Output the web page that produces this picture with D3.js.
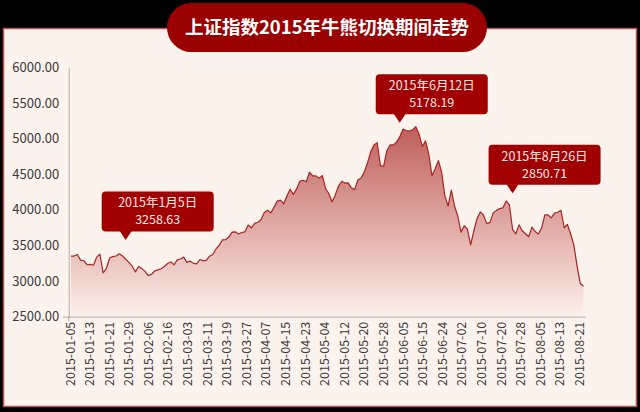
<!DOCTYPE html>
<html>
<head>
<meta charset="utf-8">
<script src="https://cdn.jsdelivr.net/npm/d3@7"></script>
<style>
    body { margin: 0; background: #000; }
    svg { display: block; }
</style>
</head>
<body>
<div id="chart"></div>
<script>
// trading days, 2015-01-05 .. 2015-08-26
var dates = [
    '2015-01-05', '2015-01-06', '2015-01-07', '2015-01-08', '2015-01-09', '2015-01-12', '2015-01-13', '2015-01-14', '2015-01-15', '2015-01-16',
    '2015-01-19', '2015-01-20', '2015-01-21', '2015-01-22', '2015-01-23', '2015-01-26', '2015-01-27', '2015-01-28', '2015-01-29', '2015-01-30',
    '2015-02-02', '2015-02-03', '2015-02-04', '2015-02-05', '2015-02-06', '2015-02-09', '2015-02-10', '2015-02-11', '2015-02-12', '2015-02-13',
    '2015-02-16', '2015-02-17', '2015-02-25', '2015-02-26', '2015-02-27',
    '2015-03-02', '2015-03-03', '2015-03-04', '2015-03-05', '2015-03-06', '2015-03-09', '2015-03-10', '2015-03-11', '2015-03-12', '2015-03-13',
    '2015-03-16', '2015-03-17', '2015-03-18', '2015-03-19', '2015-03-20', '2015-03-23', '2015-03-24', '2015-03-25', '2015-03-26', '2015-03-27',
    '2015-03-30', '2015-03-31',
    '2015-04-01', '2015-04-02', '2015-04-03', '2015-04-07', '2015-04-08', '2015-04-09', '2015-04-10', '2015-04-13', '2015-04-14', '2015-04-15',
    '2015-04-16', '2015-04-17', '2015-04-20', '2015-04-21', '2015-04-22', '2015-04-23', '2015-04-24', '2015-04-27', '2015-04-28', '2015-04-29',
    '2015-04-30',
    '2015-05-04', '2015-05-05', '2015-05-06', '2015-05-07', '2015-05-08', '2015-05-11', '2015-05-12', '2015-05-13', '2015-05-14', '2015-05-15',
    '2015-05-18', '2015-05-19', '2015-05-20', '2015-05-21', '2015-05-22', '2015-05-25', '2015-05-26', '2015-05-27', '2015-05-28', '2015-05-29',
    '2015-06-01', '2015-06-02', '2015-06-03', '2015-06-04', '2015-06-05', '2015-06-08', '2015-06-09', '2015-06-10', '2015-06-11', '2015-06-12',
    '2015-06-15', '2015-06-16', '2015-06-17', '2015-06-18', '2015-06-19', '2015-06-23', '2015-06-24', '2015-06-25', '2015-06-26', '2015-06-29',
    '2015-06-30',
    '2015-07-01', '2015-07-02', '2015-07-03', '2015-07-06', '2015-07-07', '2015-07-08', '2015-07-09', '2015-07-10', '2015-07-13', '2015-07-14',
    '2015-07-15', '2015-07-16', '2015-07-17', '2015-07-20', '2015-07-21', '2015-07-22', '2015-07-23', '2015-07-24', '2015-07-27', '2015-07-28',
    '2015-07-29', '2015-07-30', '2015-07-31',
    '2015-08-03', '2015-08-04', '2015-08-05', '2015-08-06', '2015-08-07', '2015-08-10', '2015-08-11', '2015-08-12', '2015-08-13', '2015-08-14',
    '2015-08-17', '2015-08-18', '2015-08-19', '2015-08-20', '2015-08-21', '2015-08-24', '2015-08-25', '2015-08-26'
];

// closing values, same order as dates
var closes = [
    3350.52, 3351.45, 3373.95, 3293.46, 3285.41, 3229.32, 3235.30, 3222.44, 3336.45, 3376.50,
    3116.35, 3173.05, 3323.61, 3343.34, 3351.76, 3383.18, 3352.96, 3305.74, 3262.30, 3210.36,
    3128.30, 3204.91, 3174.13, 3136.53, 3075.91, 3095.12, 3141.59, 3157.70, 3173.42, 3203.83,
    3246.91, 3268.71, 3228.84, 3298.36, 3310.30,
    3336.28, 3263.05, 3279.53, 3248.48, 3241.19, 3302.41, 3286.07, 3290.90, 3349.32, 3372.91,
    3449.30, 3502.85, 3577.30, 3582.27, 3617.32, 3687.73, 3691.41, 3660.73, 3682.09, 3691.10,
    3786.57, 3747.90,
    3810.29, 3825.78, 3863.93, 3961.38, 3994.81, 3957.53, 4034.31, 4121.71, 4135.57, 4084.16,
    4194.82, 4287.30, 4217.08, 4293.62, 4398.49, 4414.51, 4393.69, 4527.40, 4476.62, 4476.21,
    4441.66,
    4480.46, 4298.71, 4229.27, 4112.21, 4205.92, 4333.58, 4401.22, 4375.76, 4378.31, 4308.69,
    4283.49, 4417.55, 4446.29, 4529.42, 4657.60, 4813.80, 4910.90, 4941.71, 4620.27, 4611.74,
    4828.74, 4910.53, 4909.98, 4947.10, 5023.10, 5131.88, 5113.53, 5106.04, 5121.59, 5166.35,
    5062.99, 4887.43, 4967.90, 4785.36, 4478.36, 4576.49, 4690.15, 4527.78, 4192.87, 4053.03,
    4277.22,
    4053.70, 3912.77, 3686.92, 3775.91, 3727.12, 3507.19, 3709.33, 3877.80, 3970.39, 3924.49,
    3805.70, 3823.18, 3957.35, 3992.11, 4017.67, 4026.04, 4123.92, 4070.91, 3725.56, 3663.00,
    3789.17, 3705.77, 3663.73,
    3622.91, 3756.55, 3694.57, 3661.54, 3744.20, 3928.42, 3927.91, 3886.32, 3954.56, 3965.33,
    3993.67, 3748.16, 3794.11, 3664.29, 3507.74, 3209.91, 2964.97, 2927.29
];

// x axis labels (every 6th trading day)
var tickLabels = [
    '2015-01-05', '2015-01-13', '2015-01-21', '2015-01-29', '2015-02-06', '2015-02-16', '2015-03-03',
    '2015-03-11', '2015-03-19', '2015-03-27', '2015-04-07', '2015-04-15', '2015-04-23', '2015-05-04',
    '2015-05-12', '2015-05-20', '2015-05-28', '2015-06-05', '2015-06-15', '2015-06-24', '2015-07-02',
    '2015-07-10', '2015-07-20', '2015-07-28', '2015-08-05', '2015-08-13', '2015-08-21'
];

var yTicks = [2500, 3000, 3500, 4000, 4500, 5000, 5500, 6000];

// callouts: where the pointer sits, and what it says
var noteDates  = ['2015-01-28', '2015-06-05', '2015-07-27'];
var noteLevels = [3576, 5222, 4232];
var noteDays   = ['2015年1月5日', '2015年6月12日', '2015年8月26日'];
var noteValues = ['3258.63', '5178.19', '2850.71'];

var title = '上证指数2015年牛熊切换期间走势';

var width = 640, height = 412;
var fontFamily = '"Noto Sans CJK SC", "Noto Sans", sans-serif';

var svg = d3.select('#chart').append('svg')
    .attr('width', width)
    .attr('height', height)
    .style('font-family', fontFamily);

// black frame + card
svg.append('rect')
    .attr('width', width).attr('height', height)
    .attr('fill', '#000');

svg.append('rect')
    .attr('x', 3.5).attr('y', 28.5)
    .attr('width', 633).attr('height', 378)
    .attr('fill', '#fdf3ed')
    .attr('stroke', '#b8524e')
    .attr('stroke-width', 1.5);

// scales
var x = d3.scalePoint()
    .domain(dates)
    .range([68.7, 585.7])
    .padding(0.68);

var xLabel = d3.scalePoint()
    .domain(tickLabels)
    .range([69.5, 579]);

var y = d3.scaleLinear()
    .domain([2500, 6000])
    .range([316.7, 67.3]);

var points = dates.map(function(d, i) { return { date: d, value: closes[i] }; });

// gradient under the line
var defs = svg.append('defs');
var grad = defs.append('linearGradient')
    .attr('id', 'areaFill')
    .attr('gradientUnits', 'userSpaceOnUse')
    .attr('x1', 0).attr('x2', 0)
    .attr('y1', y(d3.max(closes))).attr('y2', y(2500));
grad.append('stop').attr('offset', '0%').attr('stop-color', '#bf5e5a');
grad.append('stop').attr('offset', '55%').attr('stop-color', '#e2aeaa');
grad.append('stop').attr('offset', '100%').attr('stop-color', '#fcf0eb');

var area = d3.area()
    .x(function(d) { return x(d.date); })
    .y0(y(2500))
    .y1(function(d) { return y(d.value); });

var line = d3.line()
    .x(function(d) { return x(d.date); })
    .y(function(d) { return y(d.value); });

svg.append('path')
    .datum(points)
    .attr('d', area)
    .attr('fill', 'url(#areaFill)');

svg.append('path')
    .datum(points)
    .attr('d', line)
    .attr('fill', 'none')
    .attr('stroke', '#a82424')
    .attr('stroke-width', 1.2)
    .attr('stroke-linejoin', 'round');

// Y axis
var yAxis = svg.append('g')
    .attr('transform', 'translate(68.7,0)')
    .call(d3.axisLeft(y)
        .tickValues(yTicks)
        .tickFormat(d3.format('.2f'))
        .tickSize(0)
        .tickPadding(9.5));
yAxis.select('.domain').attr('stroke', '#b3aaa6');
yAxis.selectAll('text')
    .attr('fill', '#3a3a3a')
    .style('font-size', '13px')
    .style('font-family', fontFamily);

// small corner ticks at 2500
svg.append('g')
    .attr('transform', 'translate(68.7,0)')
    .call(d3.axisLeft(y).tickValues([2500]).tickSize(6).tickFormat(''))
    .call(function(g) {
        g.select('.domain').remove();
        g.selectAll('line').attr('stroke', '#b3aaa6');
    });

// X axis
var xAxis = svg.append('g')
    .attr('transform', 'translate(0,316.7)')
    .call(d3.axisBottom(xLabel).tickSize(0).tickSizeOuter(0).tickPadding(5));
xAxis.select('.domain')
    .attr('d', 'M68.7,0.5H585.7')
    .attr('stroke', '#b3aaa6');
xAxis.selectAll('text')
    .attr('fill', '#3a3a3a')
    .style('font-size', '12.5px')
    .style('font-family', fontFamily)
    .style('text-anchor', 'end')
    .attr('transform', 'rotate(-90)')
    .attr('x', -5)
    .attr('y', 0)
    .attr('dy', '0.36em');

svg.append('line')
    .attr('x1', 68.7).attr('x2', 68.7)
    .attr('y1', 316.7).attr('y2', 321)
    .attr('stroke', '#b3aaa6');

// callouts
var notes = svg.selectAll('.note')
    .data(noteDates)
    .enter().append('g')
    .attr('class', 'note')
    .attr('transform', function(d, i) {
        return 'translate(' + x(d) + ',' + y(noteLevels[i]) + ')';
    });

notes.append('rect')
    .attr('x', -24).attr('y', -48.5)
    .attr('width', 112).attr('height', 40)
    .attr('rx', 4)
    .attr('fill', '#a00000');

notes.append('path')
    .attr('d', 'M-6,-9L0,0L6,-9Z')
    .attr('fill', '#a00000');

notes.append('text')
    .attr('x', 32).attr('y', -37)
    .attr('dy', '0.35em')
    .attr('text-anchor', 'middle')
    .attr('fill', '#fde6e4')
    .style('font-size', '12.5px')
    .text(function(d, i) { return noteDays[i]; });

notes.append('text')
    .attr('x', 32).attr('y', -20)
    .attr('dy', '0.35em')
    .attr('text-anchor', 'middle')
    .attr('fill', '#fde6e4')
    .style('font-size', '12.5px')
    .text(function(d, i) { return noteValues[i]; });

// title pill
svg.append('rect')
    .attr('x', 167).attr('y', 3)
    .attr('width', 320).attr('height', 49)
    .attr('rx', 24.5)
    .attr('fill', '#9b0000');

svg.append('text')
    .attr('x', 327).attr('y', 28)
    .attr('dy', '0.35em')
    .attr('text-anchor', 'middle')
    .attr('fill', '#ffffff')
    .style('font-size', '18.5px')
    .style('font-weight', 'bold')
    .text(title);
</script>
</body>
</html>
